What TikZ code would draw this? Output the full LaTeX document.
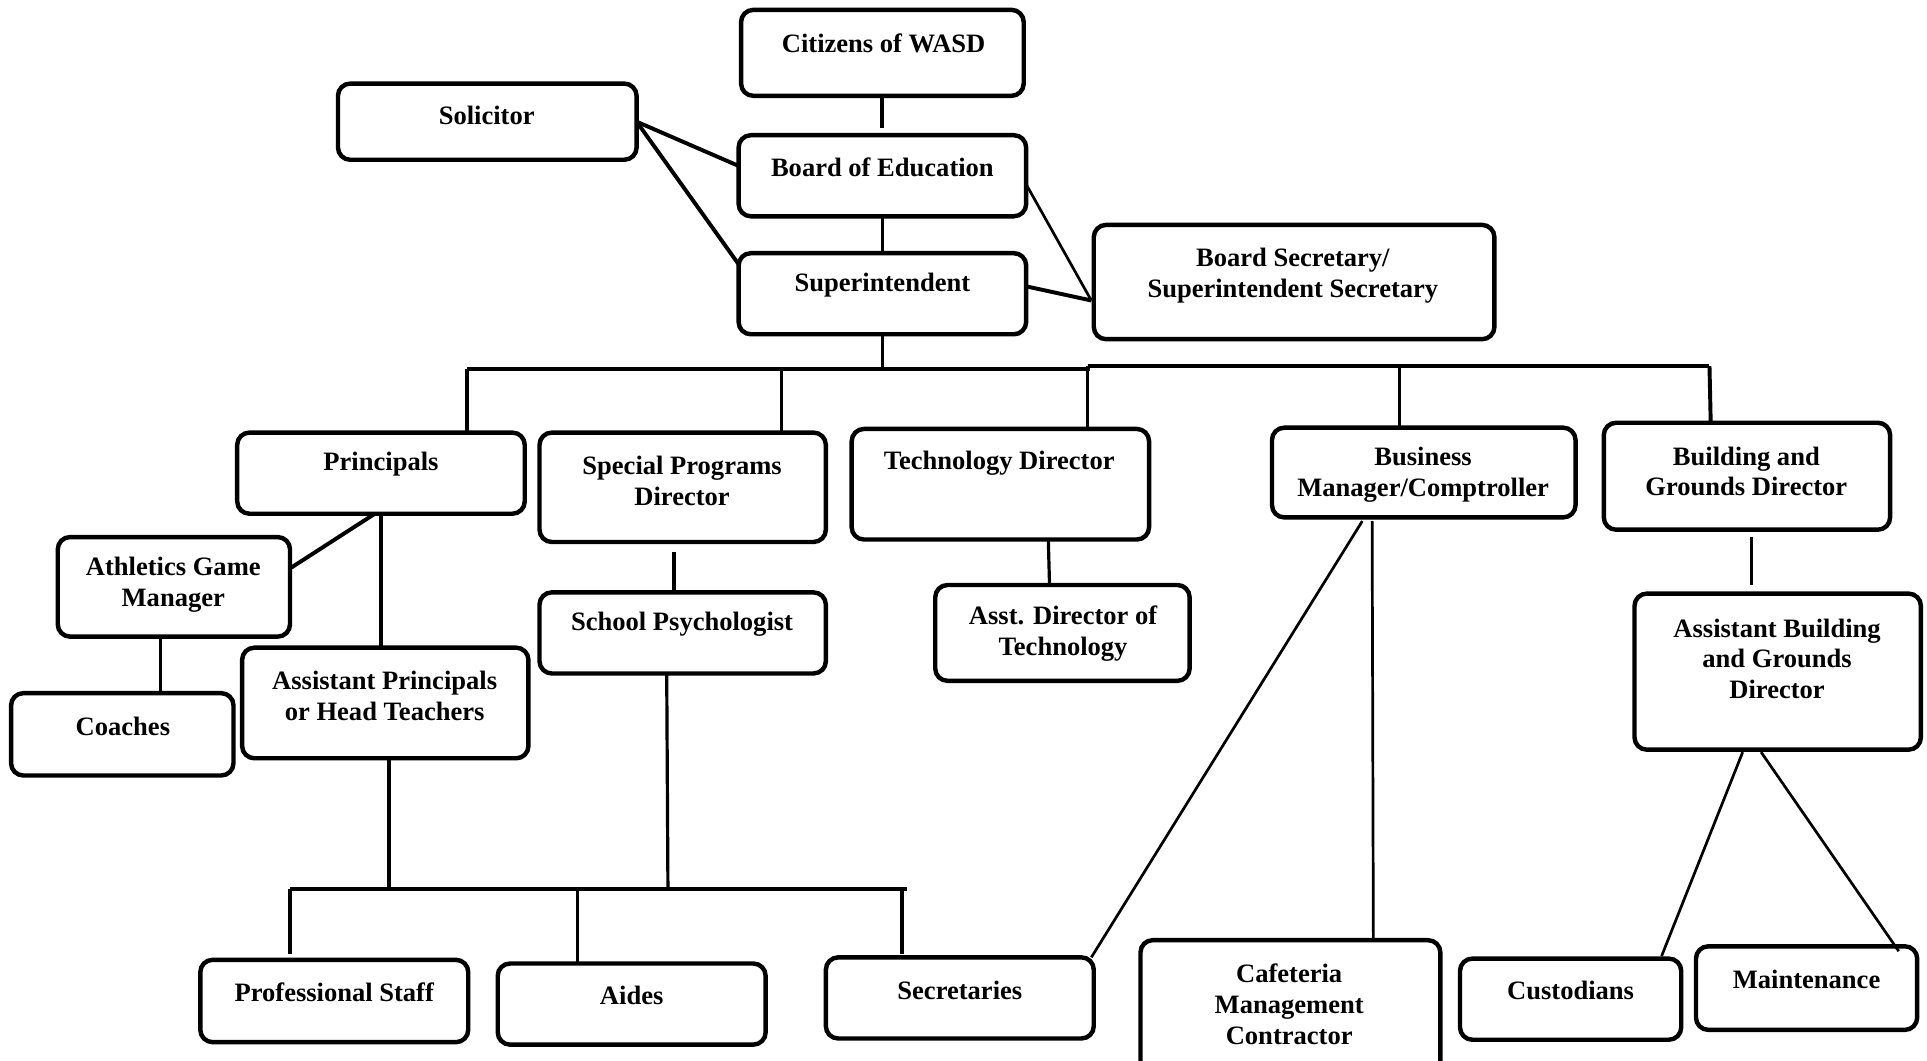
\documentclass[tikz,border=0pt]{standalone}
\usepackage{fontspec}
\setmainfont{Liberation Serif}
\usetikzlibrary{calc}
\tikzset{
  obox/.style={draw, line width=1.8pt, rounded corners=5pt, inner sep=0pt, outer sep=0pt},
  lbl/.style={font=\bfseries\fontsize{10.8}{12.5}\selectfont, align=center, inner sep=0pt},
  thk/.style={line width=1.6pt},
  med/.style={line width=1.3pt},
  thn/.style={line width=1.1pt}
}
\newcommand{\mkbox}[5]{%
  \node[obox, minimum width={(#4-#2)*0.5pt}, minimum height={(#5-#3)*0.5pt}] (#1) at ({(#2+#4)/2},{(#3+#5)/2}) {};}
\begin{document}
\begin{tikzpicture}[x=0.5pt,y=-0.5pt]
\useasboundingbox (0,0) rectangle (1568,863);
% boxes
\mkbox{cit}{603}{8}{833}{78}
\mkbox{sol}{275}{68}{518}{130}
\mkbox{boe}{601}{110}{835}{176}
\mkbox{sup}{601}{206}{835}{272}
\mkbox{bsec}{890}{183}{1216}{276}
\mkbox{pri}{193}{352}{427}{418}
\mkbox{spd}{439}{352}{672}{441}
\mkbox{tec}{693}{349}{935}{439}
\mkbox{bmc}{1035}{348}{1282}{421}
\mkbox{bgd}{1305}{344}{1538}{431}
\mkbox{agm}{47}{437}{236}{518}
\mkbox{sps}{439}{482}{672}{548}
\mkbox{adt}{761}{476}{968}{554}
\mkbox{abg}{1330}{483}{1563}{610}
\mkbox{coa}{9}{564}{190}{631}
\mkbox{apr}{197}{527}{430}{617}
\mkbox{pst}{163}{781}{381}{848}
\mkbox{aid}{405}{784}{623}{850}
\mkbox{sec}{672}{779}{890}{845}
\mkbox{caf}{928}{765}{1172}{875}
\mkbox{cus}{1188}{780}{1368}{846}
\mkbox{mai}{1380}{770}{1560}{838}
% labels
\node[lbl] (citT) at (719,35) {Citizens of WASD};
\node[lbl] (solT) at (396,94) {Solicitor};
\node[lbl] (boeT) at (718,136) {Board of Education};
\node[lbl] (supT) at (718,232) {Superintendent};
\node[lbl] (bsecT) at (1052,224) {Board Secretary/\\Superintendent Secretary};
\node[lbl] (priT) at (310,378) {Principals};
\node[lbl] (spdT) at (555,391.5) {Special Programs\\Director};
\node[lbl] (tecT) at (813,377) {Technology Director};
\node[lbl] (bmcT) at (1158,386.5) {Business\\Manager/Comptroller};
\node[lbl] (bgdT) at (1421,383.5) {Building and\\Grounds Director};
\node[lbl] (agmT) at (141,475.5) {Athletics Game\\Manager};
\node[lbl] (spsT) at (555,508) {School Psychologist};
\node[lbl] (adtT) at (865,515.5) {Asst. Director of\\Technology};
\node[lbl] (abgT) at (1446,536) {Assistant Building\\and Grounds\\Director};
\node[lbl] (coaT) at (100,591) {Coaches};
\node[lbl] (aprT) at (313,566.5) {Assistant Principals\\or Head Teachers};
\node[lbl] (pstT) at (272,807) {Professional Staff};
\node[lbl] (aidT) at (514,810) {Aides};
\node[lbl] (secT) at (781,806) {Secretaries};
\node[lbl] (cafT) at (1049,817) {Cafeteria\\Management\\Contractor};
\node[lbl] (cusT) at (1278,806) {Custodians};
\node[lbl] (maiT) at (1470,797) {Maintenance};
% top connectors
\draw[thk] (cit.south) -- ($(boe.north)+(0,-6)$);
\draw[med] (boe.south) -- (sup.north);
\draw[thk] (sol.east) -- ($(boe.west)+(0,-8)$);
\draw[thk] (sol.east) -- ($(sup.west)+(0,-24)$);
\draw[thn] ($(boe.east)+(0,7)$) -- ($(bsec.west)+(-2,15)$);
\draw[thk] ($(sup.east)+(0,-6)$) -- ($(bsec.west)+(-2,15)$);
% upper bus
\coordinate (busL) at (380,300);
\coordinate (busM) at (887,300);
\coordinate (busM2) at (885,298);
\coordinate (busR) at (1391,298);
\coordinate (d2) at (636,300);
\coordinate (d4) at (1139,298);
\draw[med] (sup.south) -- (sup.south |- busL);
\draw[thk] (busL) -- (busM);
\draw[thk] (busM2) -- (busR);
\draw[med] (busL) -- (busL |- pri.north);
\draw[med] (d2) -- (d2 |- spd.north);
\draw[med] (busM2) -- (busM2 |- tec.north);
\draw[med] (d4) -- (d4 |- bmc.north);
\draw[thk] (busR) -- ($(busR |- bgd.north)+(1,0)$);
% principals
\draw[med] (pri.south) -- (pri.south |- apr.north);
\draw[thk] ($(pri.south)+(-5,0)$) -- ($(agm.east)+(0,-15)$);
\coordinate (ac) at ($(agm.south)+(-11,0)$);
\draw[med] (ac) -- (ac |- coa.north);
% special programs
\coordinate (sp1) at ($(spd.south)+(-7,8)$);
\draw[med] (sp1) -- (sp1 |- sps.north);
% technology
\coordinate (t1) at ($(tec.south)+(39,0)$);
\draw[med] (t1) -- ($(t1 |- adt.north)+(1,0)$);
% building
\coordinate (b1) at ($(bgd.south)+(4,6)$);
\draw[med] (b1) -- ($(b1 |- abg.north)+(0,-7)$);
% lower bus
\coordinate (lbL) at (236,723);
\coordinate (lbR) at (738,723);
\coordinate (lb2) at (470,723);
\coordinate (lb3) at (734,723);
\coordinate (a1) at ($(apr.south)+(3,0)$);
\coordinate (s1) at ($(sps.south)+(-13,0)$);
\draw[med] (a1) -- (a1 |- lbL);
\draw[med] (s1) -- ($(s1 |- lbL)+(1,0)$);
\draw[thk] (lbL) -- (lbR);
\draw[med] (lbL) -- ($(lbL |- pst.north)+(0,-5)$);
\draw[med] (lb2) -- (lb2 |- aid.north);
\draw[med] (lb3) -- ($(lb3 |- sec.north)+(0,-3)$);
% business
\draw[thn] ($(bmc.south)+(-50,3)$) -- ($(sec.north east)+(-2,0)$);
\coordinate (bm2) at ($(bmc.south)+(-42,3)$);
\draw[thn] (bm2) -- ($(bm2 |- caf.north)+(1,0)$);
% asst building
\draw[thn] ($(abg.south)+(-28.5,2)$) -- ($(cus.north east)+(-16,-2)$);
\draw[thn] ($(abg.south)+(-13.5,2)$) -- ($(mai.north east)+(-15,4)$);
\end{tikzpicture}
\end{document}
